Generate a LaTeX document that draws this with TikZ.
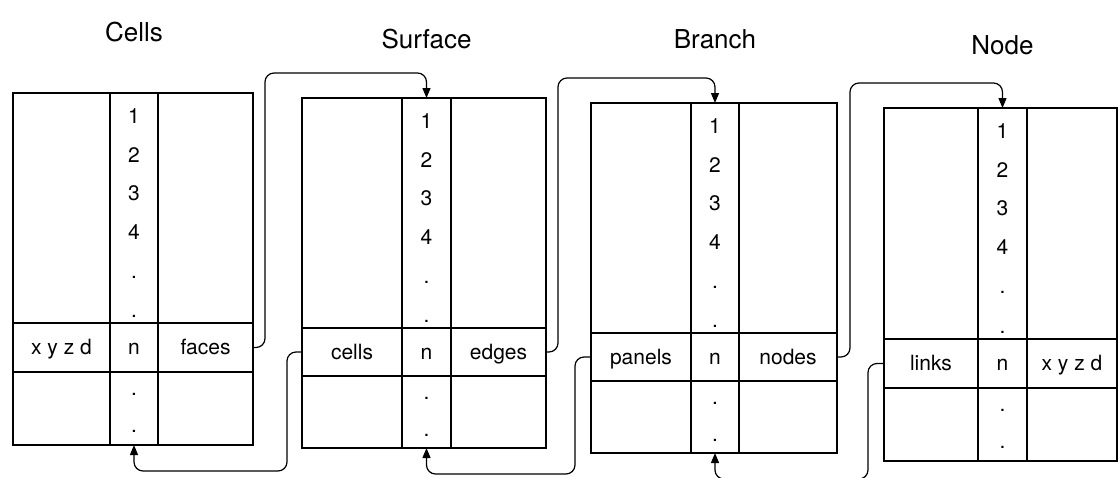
\documentclass[tikz,border=0pt]{standalone}
\usepackage{fontspec}
\setmainfont{TeX Gyre Heros}
\usetikzlibrary{arrows.meta}
\begin{document}
\begin{tikzpicture}[x=1pt,y=-1pt,
  ln/.style={line width=1.2pt},
  lbl/.style={font=\fontsize{21}{25}\selectfont, anchor=base, inner sep=0pt},
  ttl/.style={font=\fontsize{26}{30}\selectfont, anchor=base, inner sep=0pt},
  conn/.style={line width=1.2pt, rounded corners=9pt, -{Triangle[length=10pt,width=8pt]}}]
\clip (0,0) rectangle (1120,477);
\fill[white] (0,0) rectangle (1120,477);
\foreach \nm/\L/\A/\B/\R/\T/\P/\Q/\D/\la/\lc/\ti/\tb in {
  c/13/110/158/253/93/323/372/445/{x y z d}/faces/Cells/41,
  s/302/402/451/546/98/328/376/448/cells/edges/Surface/48,
  b/591/691/739/837/103/333/381/453/panels/nodes/Branch/48,
  n/884/978/1027/1117/108/339/388/461/links/{x y z d}/Node/54}{
  \draw[ln] (\L,\T) rectangle (\R,\D);
  \draw[ln] (\A,\T) -- (\A,\D) (\B,\T) -- (\B,\D) (\L,\P) -- (\R,\P) (\L,\Q) -- (\R,\Q);
  \pgfmathsetmacro{\mx}{(\A+\B)/2}
  \pgfmathsetmacro{\my}{(\P+\Q)/2}
  \coordinate (\nm-in) at (\L,\my);
  \coordinate (\nm-out) at (\R,\my);
  \coordinate (\nm-top) at (\mx,\T);
  \coordinate (\nm-bot) at (\mx,\D);
  \coordinate (\nm-above) at (\mx,\T-25);
  \coordinate (\nm-below) at (\mx,\D+26);
  \node[ttl] (\nm-title) at (\mx,\tb) {\ti};
  \node[lbl] (\nm-1) at (\mx,\T+30) {1};
  \node[lbl] (\nm-2) at (\mx,\T+69) {2};
  \node[lbl] (\nm-3) at (\mx,\T+107.5) {3};
  \node[lbl] (\nm-4) at (\mx,\T+146) {4};
  \node[lbl] (\nm-d1) at (\mx,\T+185) {.};
  \node[lbl] (\nm-d2) at (\mx,\P-6) {.};
  \node[lbl] (\nm-la) at ({(\L+\A)/2},\my+7) {\la};
  \node[lbl] (\nm-n) at (\mx,\my+7) {n};
  \node[lbl] (\nm-lc) at ({(\B+\R)/2},\my+7) {\lc};
  \node[lbl] (\nm-d3) at (\mx,\Q+23) {.};
  \node[lbl] (\nm-d4) at (\mx,\Q+60) {.};
}
% top connectors
\draw[conn] (c-out) -- ++(12,0) |- (s-above) -- (s-top);
\draw[conn] (s-out) -- ++(12,0) |- (b-above) -- (b-top);
\draw[conn] (b-out) -- ++(13,0) |- (n-above) -- (n-top);
% bottom connectors
\draw[conn] (s-in) -- ++(-15,0) |- (c-below) -- (c-bot);
\draw[conn] (b-in) -- ++(-16,0) |- (s-below) -- (s-bot);
\draw[conn] (n-in) -- ++(-16,0) |- (b-below) -- (b-bot);
\end{tikzpicture}
\end{document}
